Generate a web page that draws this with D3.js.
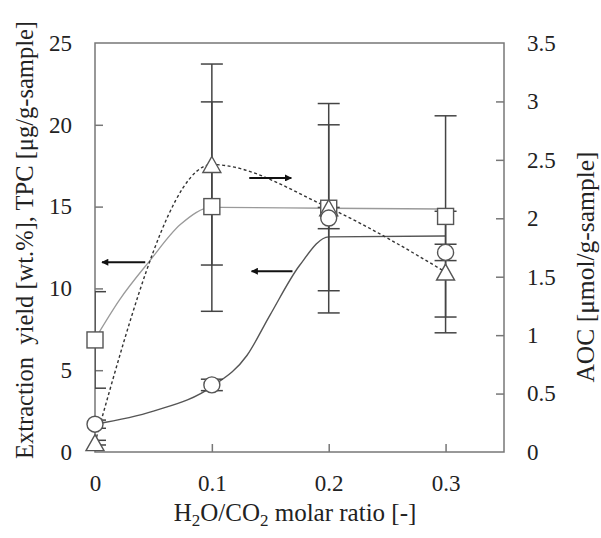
<!DOCTYPE html>
<html>
<head>
<meta charset="utf-8">
<script src="https://cdnjs.cloudflare.com/ajax/libs/d3/7.8.5/d3.min.js"></script>
<style>
  body { margin: 0; background: #fff; }
  text { font-family: "Liberation Serif", "Times New Roman", serif; fill: #222; }
</style>
</head>
<body>
<div id="chart"></div>
<script>
'use strict';

// x positions (H2O/CO2 molar ratio)
var ratios = [0, 0.1, 0.2, 0.3];

// extraction yield [wt.%] - circles, left axis
var yieldValues = [1.7, 4.1, 14.3, 12.2];
var yieldErrors = [0.25, 0.35, 0.65, 0.5];

// TPC [ug/g-sample] - squares, left axis
var tpcValues = [6.85, 15.0, 14.9, 14.4];
var tpcErrors = [2.95, 6.4, 6.4, 6.15];

// AOC [umol/g-sample] - triangles, right axis
var aocValues = [0.08, 2.46, 2.09, 1.54];
var aocErrors = [0.02, 0.86, 0.71, 0.52];

// fitted trend lines
var yieldFitX = [0, 0.05, 0.1, 0.13, 0.15, 0.175, 0.2, 0.3];
var yieldFitY = [1.7, 2.5, 4.0, 5.9, 8.4, 11.4, 13.15, 13.2];
var tpcFitX = [0, 0.021, 0.047, 0.073, 0.1, 0.2, 0.3];
var tpcFitY = [6.9, 9.3, 11.7, 13.9, 14.95, 14.9, 14.85];

// arrows: [x from, x to, y (left axis units)]
var arrows = [
    [0.043, 0.006, 11.6],
    [0.169, 0.134, 11.05],
    [0.132, 0.168, 16.75]
];

var xTicks = [0, 0.1, 0.2, 0.3];
var leftTicks = [0, 5, 10, 15, 20, 25];
var rightTicks = [0, 0.5, 1, 1.5, 2, 2.5, 3, 3.5];

var width = 601;
var height = 538;
var margin = {top: 43, left: 95, right: 97, bottom: 86};
var plotW = width - margin.left - margin.right;
var plotH = height - margin.top - margin.bottom;

var svg = d3.select('#chart')
    .append('svg')
    .attr('width', width)
    .attr('height', height);

var defs = svg.append('defs');
defs.append('clipPath')
    .attr('id', 'plotClip')
    .append('rect')
    .attr('x', 0)
    .attr('y', -20)
    .attr('width', plotW)
    .attr('height', plotH + 20);

defs.append('marker')
    .attr('id', 'arrowHead')
    .attr('viewBox', '0 0 10 10')
    .attr('refX', 9)
    .attr('refY', 5)
    .attr('markerWidth', 4.5)
    .attr('markerHeight', 3.5)
    .attr('orient', 'auto')
    .append('path')
    .attr('d', 'M0,0 L10,5 L0,10 z')
    .style('fill', '#111');

var g = svg.append('g')
    .attr('transform', 'translate(' + margin.left + ',' + margin.top + ')');

var x = d3.scaleLinear().domain([0, 0.35]).range([0, plotW]);
var yL = d3.scaleLinear().domain([0, 25]).range([plotH, 0]);
var yR = d3.scaleLinear().domain([0, 3.5]).range([plotH, 0]);

// frame
g.append('rect')
    .attr('x', 0)
    .attr('y', 0)
    .attr('width', plotW)
    .attr('height', plotH)
    .style('fill', 'none')
    .style('stroke', '#777')
    .style('stroke-width', 1.5);

// axes with inward ticks
var axisColor = '#777';
var leftAxis = g.append('g')
    .call(d3.axisLeft(yL).tickValues(leftTicks).tickSizeInner(-8).tickSizeOuter(0).tickPadding(23));
var rightAxis = g.append('g')
    .attr('transform', 'translate(' + plotW + ',0)')
    .call(d3.axisRight(yR).tickValues(rightTicks).tickSizeInner(-8).tickSizeOuter(0).tickPadding(23)
        .tickFormat(function(d) { return String(d); }));
var bottomAxis = g.append('g')
    .attr('transform', 'translate(0,' + plotH + ')')
    .call(d3.axisBottom(x).tickValues(xTicks).tickSizeInner(-8).tickSizeOuter(0).tickPadding(23)
        .tickFormat(function(d) { return String(d); }));

[leftAxis, rightAxis, bottomAxis].forEach(function(a) {
    a.select('.domain').remove();
    a.selectAll('line').style('stroke', axisColor).style('stroke-width', 1.5);
    a.selectAll('text')
        .style('font-family', '"Liberation Serif", serif')
        .style('font-size', '23px')
        .style('fill', '#222');
});
leftAxis.selectAll('line').filter(function(d) { return d === 0 || d === 25; }).remove();
rightAxis.selectAll('line').filter(function(d) { return d === 0 || d === 3.5; }).remove();
bottomAxis.selectAll('line').filter(function(d) { return d === 0; }).remove();

// fitted lines
var line = d3.line()
    .x(function(d) { return x(d[0]); })
    .y(function(d) { return d[1]; })
    .curve(d3.curveMonotoneX);

g.append('path')
    .datum(tpcFitX.map(function(v, i) { return [v, yL(tpcFitY[i])]; }))
    .attr('d', line)
    .style('fill', 'none')
    .style('stroke', '#9a9a9a')
    .style('stroke-width', 1.3);

g.append('path')
    .datum(yieldFitX.map(function(v, i) { return [v, yL(yieldFitY[i])]; }))
    .attr('d', line)
    .style('fill', 'none')
    .style('stroke', '#555')
    .style('stroke-width', 1.4);

// smoothed dashed line through the AOC points
g.append('path')
    .datum(ratios.map(function(v, i) { return [v, yR(aocValues[i])]; }))
    .attr('d', line)
    .style('fill', 'none')
    .style('stroke', '#333')
    .style('stroke-width', 1.4)
    .style('stroke-dasharray', '3,2.5');

// error bars
var errGroup = g.append('g').attr('clip-path', 'url(#plotClip)');
var capW = 11;
function drawErrors(values, errors, scale) {
    var data = ratios.map(function(v, i) {
        return {x: v, lo: values[i] - errors[i], hi: values[i] + errors[i]};
    });
    var eg = errGroup.selectAll(null)
        .data(data)
        .enter()
        .append('g')
        .style('stroke', '#444')
        .style('stroke-width', 1.5);
    eg.append('line')
        .attr('x1', function(d) { return x(d.x); })
        .attr('x2', function(d) { return x(d.x); })
        .attr('y1', function(d) { return scale(d.lo); })
        .attr('y2', function(d) { return scale(d.hi); });
    eg.append('line')
        .attr('x1', function(d) { return x(d.x) - capW; })
        .attr('x2', function(d) { return x(d.x) + capW; })
        .attr('y1', function(d) { return scale(d.lo); })
        .attr('y2', function(d) { return scale(d.lo); });
    eg.append('line')
        .attr('x1', function(d) { return x(d.x) - capW; })
        .attr('x2', function(d) { return x(d.x) + capW; })
        .attr('y1', function(d) { return scale(d.hi); })
        .attr('y2', function(d) { return scale(d.hi); });
}
drawErrors(tpcValues, tpcErrors, yL);
drawErrors(aocValues, aocErrors, yR);
drawErrors(yieldValues, yieldErrors, yL);

// markers
var markerStroke = '#555';
g.selectAll('.sq')
    .data(ratios)
    .enter()
    .append('rect')
    .attr('class', 'sq')
    .attr('x', function(d) { return x(d) - 8; })
    .attr('y', function(d, i) { return yL(tpcValues[i]) - 8; })
    .attr('width', 16)
    .attr('height', 16)
    .style('fill', '#fff')
    .style('stroke', markerStroke)
    .style('stroke-width', 1.4);

g.selectAll('.tri')
    .data(ratios)
    .enter()
    .append('path')
    .attr('class', 'tri')
    .attr('d', function(d, i) {
        var cx = x(d), cy = yR(aocValues[i]);
        return 'M' + cx + ',' + (cy - 8) + 'L' + (cx + 9) + ',' + (cy + 8) + 'L' + (cx - 9) + ',' + (cy + 8) + 'Z';
    })
    .style('fill', '#fff')
    .style('stroke', markerStroke)
    .style('stroke-width', 1.4);

g.selectAll('.circ')
    .data(ratios)
    .enter()
    .append('circle')
    .attr('class', 'circ')
    .attr('cx', function(d) { return x(d); })
    .attr('cy', function(d, i) { return yL(yieldValues[i]); })
    .attr('r', 8)
    .style('fill', '#fff')
    .style('stroke', markerStroke)
    .style('stroke-width', 1.4);

// arrows
g.selectAll('.arrow')
    .data(arrows)
    .enter()
    .append('line')
    .attr('class', 'arrow')
    .attr('x1', function(d) { return x(d[0]); })
    .attr('x2', function(d) { return x(d[1]); })
    .attr('y1', function(d) { return yL(d[2]); })
    .attr('y2', function(d) { return yL(d[2]); })
    .style('stroke', '#111')
    .style('stroke-width', 2)
    .attr('marker-end', 'url(#arrowHead)');

// titles
svg.append('text')
    .attr('transform', 'translate(33,240) rotate(-90)')
    .attr('text-anchor', 'middle')
    .style('font-size', '24.5px')
    .style('white-space', 'pre')
    .text('Extraction  yield [wt.%], TPC [\u03bcg/g-sample]');

svg.append('text')
    .attr('transform', 'translate(594,267) rotate(-90)')
    .attr('text-anchor', 'middle')
    .style('font-size', '25.5px')
    .text('AOC [\u03bcmol/g-sample]');

var xt = svg.append('text')
    .attr('x', 295)
    .attr('y', 521)
    .attr('text-anchor', 'middle')
    .style('font-size', '25px');
xt.append('tspan').text('H');
xt.append('tspan').attr('dy', 5).style('font-size', '17px').text('2');
xt.append('tspan').attr('dy', -5).text('O/CO');
xt.append('tspan').attr('dy', 5).style('font-size', '17px').text('2');
xt.append('tspan').attr('dy', -5).text(' molar ratio [-]');
</script>
</body>
</html>
